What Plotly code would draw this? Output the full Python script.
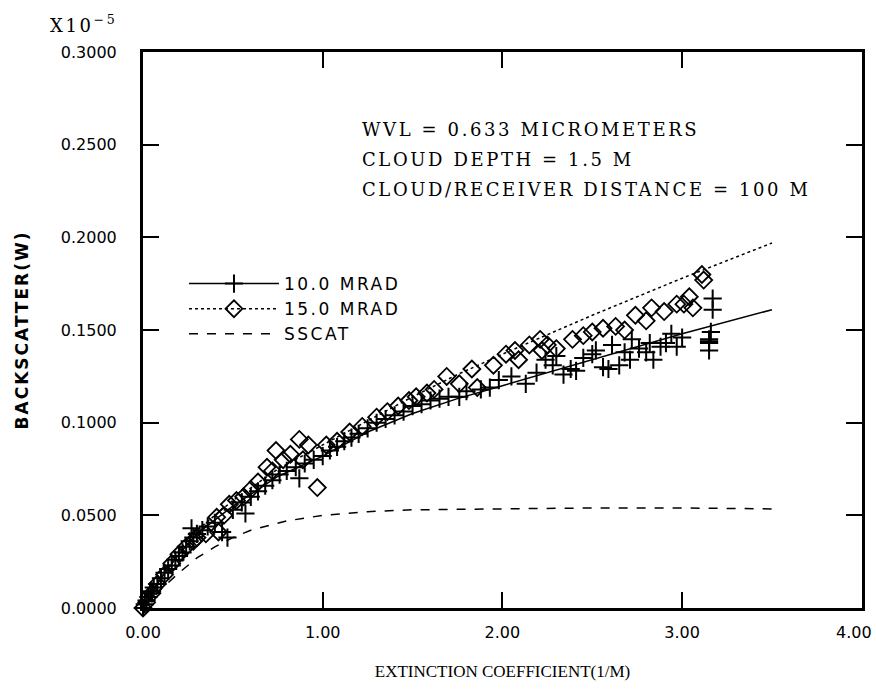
import plotly.graph_objects as go

# ---- data ----
x_10 = [0.00, 0.01, 0.02, 0.03, 0.04, 0.05, 0.06, 0.08, 0.10, 0.12, 0.14, 0.16, 0.18, 0.20, 0.22, 0.24,
        0.26, 0.27, 0.28, 0.30, 0.33, 0.36, 0.40, 0.44, 0.47, 0.50, 0.55, 0.57, 0.60, 0.64, 0.68, 0.72,
        0.76, 0.80, 0.85, 0.87, 0.90, 0.95, 1.00, 1.04, 1.08, 1.12, 1.16, 1.20, 1.25, 1.30, 1.35, 1.40,
        1.45, 1.50, 1.55, 1.60, 1.65, 1.70, 1.76, 1.80, 1.88, 1.93, 1.98, 2.05, 2.13, 2.19, 2.24, 2.28,
        2.30, 2.34, 2.38, 2.41, 2.45, 2.50, 2.52, 2.56, 2.59, 2.61, 2.65, 2.68, 2.71, 2.72, 2.76, 2.80,
        2.82, 2.84, 2.88, 2.91, 2.94, 2.97, 3.00, 3.15, 3.15, 3.15, 3.15, 3.16, 3.17, 3.17]
y_10 = [0.000, 0.002, 0.004, 0.006, 0.008, 0.009, 0.011, 0.013, 0.016, 0.019, 0.021, 0.023, 0.026, 0.028, 0.030, 0.033,
        0.036, 0.043, 0.038, 0.040, 0.042, 0.044, 0.046, 0.041, 0.038, 0.053, 0.057, 0.051, 0.060, 0.063, 0.066, 0.069,
        0.072, 0.074, 0.076, 0.070, 0.078, 0.080, 0.082, 0.085, 0.087, 0.090, 0.092, 0.094, 0.097, 0.100, 0.102, 0.104,
        0.106, 0.109, 0.110, 0.112, 0.113, 0.114, 0.114, 0.117, 0.118, 0.119, 0.123, 0.125, 0.121, 0.127, 0.134, 0.131,
        0.136, 0.126, 0.129, 0.128, 0.135, 0.137, 0.139, 0.130, 0.129, 0.142, 0.131, 0.138, 0.134, 0.145, 0.140, 0.138,
        0.143, 0.134, 0.141, 0.143, 0.148, 0.141, 0.146, 0.144, 0.145, 0.143, 0.139, 0.149, 0.161, 0.167]

x_15 = [0.00, 0.02, 0.05, 0.08, 0.12, 0.16, 0.20, 0.24, 0.28, 0.30, 0.35, 0.42, 0.41, 0.45, 0.48, 0.52,
        0.56, 0.60, 0.64, 0.69, 0.72, 0.74, 0.78, 0.82, 0.87, 0.89, 0.92, 0.97, 1.02, 1.08, 1.15, 1.22,
        1.30, 1.36, 1.42, 1.48, 1.52, 1.58, 1.62, 1.69, 1.76, 1.83, 1.86, 1.95, 2.02, 2.07, 2.09, 2.15,
        2.21, 2.22, 2.25, 2.30, 2.39, 2.45, 2.50, 2.56, 2.63, 2.68, 2.74, 2.80, 2.83, 2.90, 2.97, 3.01,
        3.04, 3.06, 3.11, 3.12]
y_15 = [0.000, 0.003, 0.008, 0.013, 0.018, 0.024, 0.029, 0.033, 0.036, 0.038, 0.040, 0.041, 0.049, 0.050, 0.056, 0.058,
        0.060, 0.064, 0.068, 0.076, 0.074, 0.085, 0.080, 0.083, 0.091, 0.080, 0.088, 0.065, 0.088, 0.090, 0.095, 0.098,
        0.103, 0.106, 0.109, 0.112, 0.114, 0.116, 0.118, 0.125, 0.121, 0.129, 0.119, 0.131, 0.137, 0.139, 0.134, 0.142,
        0.145, 0.139, 0.142, 0.140, 0.145, 0.147, 0.149, 0.151, 0.152, 0.150, 0.158, 0.155, 0.162, 0.160, 0.164, 0.164,
        0.168, 0.162, 0.180, 0.177]

fit_x = [0.0, 0.1, 0.2, 0.3, 0.5, 0.75, 1.0, 1.25, 1.5, 1.75, 2.0, 2.5, 3.0, 3.5]
fit_10 = [0.0, 0.016, 0.029, 0.040, 0.055, 0.071, 0.082, 0.095, 0.105, 0.113, 0.120, 0.134, 0.148, 0.161]
fit_15 = [0.0, 0.017, 0.031, 0.042, 0.058, 0.075, 0.088, 0.101, 0.114, 0.126, 0.137, 0.158, 0.178, 0.197]

sscat_x = [0.0, 0.1, 0.2, 0.3, 0.4, 0.5, 0.6, 0.8, 1.0, 1.25, 1.5, 2.0, 2.5, 3.0, 3.5]
sscat_y = [0.0, 0.010, 0.019, 0.027, 0.033, 0.038, 0.042, 0.047, 0.050, 0.052, 0.053, 0.0535, 0.054, 0.054, 0.0535]

y_ticks = [0.0, 0.05, 0.10, 0.15, 0.20, 0.25, 0.30]
y_ticktext = ["0.0000", "0.0500", "0.1000", "0.1500", "0.2000", "0.2500", "0.3000"]
x_ticks = [0, 1, 2, 3, 4]
x_ticktext = ["0.00", "1.00", "2.00", "3.00", "4.00"]

info_lines = ["WVL = 0.633 MICROMETERS", "CLOUD DEPTH = 1.5 M", "CLOUD/RECEIVER DISTANCE = 100 M"]

SERIF = "DejaVu Serif"
SANS = "DejaVu Sans"

fig = go.Figure()

# fitted lines
fig.add_trace(go.Scatter(x=fit_x, y=fit_10, mode="lines", line=dict(color="black", width=1.5),
                         showlegend=False, hoverinfo="skip"))
fig.add_trace(go.Scatter(x=fit_x, y=fit_15, mode="lines", line=dict(color="black", width=1.5, dash="dot"),
                         showlegend=False, hoverinfo="skip"))
fig.add_trace(go.Scatter(x=sscat_x, y=sscat_y, mode="lines", line=dict(color="black", width=1.5, dash="dash"),
                         showlegend=False, hoverinfo="skip"))

# data points
fig.add_trace(go.Scatter(x=x_15, y=y_15, mode="markers", cliponaxis=False, showlegend=False,
                         marker=dict(symbol="diamond-open", size=13, color="black", line=dict(width=1.8, color="black"))))
fig.add_trace(go.Scatter(x=x_10, y=y_10, mode="markers", cliponaxis=False, showlegend=False,
                         marker=dict(symbol="cross-thin-open", size=13, color="black", line=dict(width=2, color="black"))))

# legend entries
fig.add_trace(go.Scatter(x=[None], y=[None], mode="lines+markers", name="10.0 MRAD",
                         line=dict(color="black", width=1.5),
                         marker=dict(symbol="cross-thin-open", size=13, color="black", line=dict(width=2, color="black"))))
fig.add_trace(go.Scatter(x=[None], y=[None], mode="lines+markers", name="15.0 MRAD",
                         line=dict(color="black", width=1.5, dash="dot"),
                         marker=dict(symbol="diamond-open", size=13, color="black", line=dict(width=1.8, color="black"))))
fig.add_trace(go.Scatter(x=[None], y=[None], mode="lines", name="SSCAT",
                         line=dict(color="black", width=1.5, dash="dash")))

axis_common = dict(showgrid=False, zeroline=False, showline=True, linecolor="black", linewidth=3,
                   mirror="ticks", ticks="inside", ticklen=16, tickwidth=2, tickcolor="black", automargin=False)

fig.update_xaxes(range=[0, 4.001], tickvals=x_ticks, ticktext=x_ticktext, ticklabeloverflow="allow",
                 tickfont=dict(family=SANS, size=16, color="black"), ticklabelstandoff=8,
                 title=dict(text="EXTINCTION COEFFICIENT(1/M)", font=dict(family="Liberation Serif", size=17, color="black"),
                            standoff=24),
                 **axis_common)
fig.update_yaxes(range=[0, 0.3001], tickvals=y_ticks, ticktext=y_ticktext,
                 tickfont=dict(family=SANS, size=16, color="black"), ticklabelstandoff=20,
                 title=dict(text="<b>BACKSCATTER(W)</b>", font=dict(family=SANS, size=17, color="black"), standoff=28),
                 **axis_common)

annotations = [
    dict(text="X10<sup>−5</sup>", xref="paper", yref="paper", x=-0.132, y=1.025, xanchor="left", yanchor="bottom",
         align="left", showarrow=False, font=dict(family=SERIF, size=18, color="black")),
]
for i, t in enumerate(info_lines):
    annotations.append(dict(text=t, xref="paper", yref="paper", x=0.302, y=0.86 - i * 0.054,
                            xanchor="left", yanchor="middle", align="left", showarrow=False,
                            font=dict(family=SERIF, size=18, color="black")))

fig.update_layout(
    width=876, height=700,
    margin=dict(l=143, r=14, t=52, b=92, autoexpand=False),
    paper_bgcolor="white", plot_bgcolor="white",
    annotations=annotations,
    legend=dict(x=0.057, y=0.615, xanchor="left", yanchor="top", bgcolor="rgba(0,0,0,0)",
                font=dict(family=SANS, size=17, color="black"), itemwidth=90, tracegroupgap=0),
)

post = """
var gd = document.getElementById('{plot_id}');
function applyLS(){
  function ls(sel, v){ gd.querySelectorAll(sel).forEach(function(e){ e.style.letterSpacing = v; }); }
  ls('.annotation-text', '2.6px');
  ls('.legendtext', '2.5px');
  ls('.ytitle', '2px');
  gd.querySelectorAll('.legend [clip-path]').forEach(function(e){ e.removeAttribute('clip-path'); });
  var xt = gd.querySelectorAll('.xtick text');
  if (xt.length) { xt[xt.length - 1].setAttribute('dx', '-8'); }
}
applyLS();
if (gd.on) { gd.on('plotly_afterplot', applyLS); }
"""

fig.write_html("out.html", post_script=post)
